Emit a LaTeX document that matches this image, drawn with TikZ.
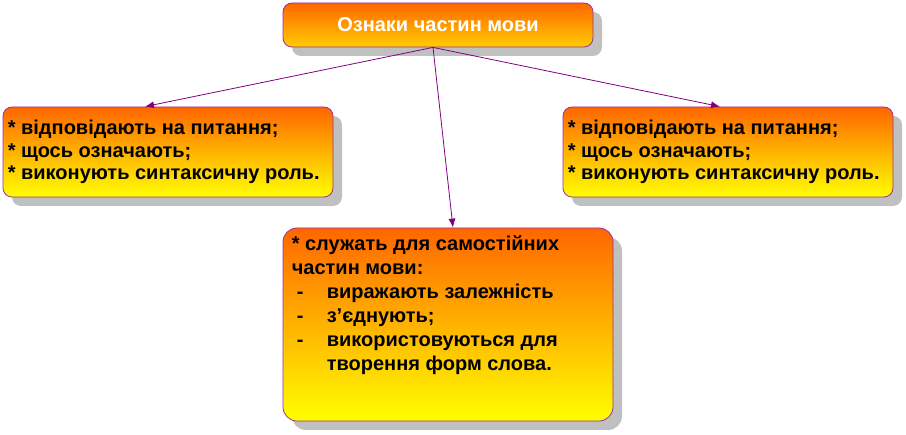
\documentclass[tikz,border=0pt]{standalone}
\usepackage{fontspec}
\setmainfont{Liberation Sans}
\usetikzlibrary{shadows,arrows.meta}
\definecolor{bordc}{HTML}{993399}
\definecolor{arrc}{HTML}{800080}
\definecolor{shc}{HTML}{C0C0C0}
\definecolor{orng}{HTML}{FF6600}
\definecolor{gold}{HTML}{FFCC00}
\definecolor{yel}{HTML}{FFFF00}
\begin{document}
\begin{tikzpicture}[x=1pt,y=-1pt,
  boxbase/.style={draw=bordc, line width=0.8pt, rounded corners=9pt, inner sep=0pt,
    general shadow={fill=shc, shadow xshift=9pt, shadow yshift=-9pt}},
  titlebox/.style={boxbase, top color=orng, bottom color=gold},
  infobox/.style={boxbase, top color=orng, bottom color=yel},
  txt/.style={font=\bfseries\fontsize{20}{22.5}\selectfont, align=left, inner sep=0pt, anchor=north west},
  conn/.style={draw=arrc, line width=0.8pt, -{Latex[length=9pt,width=7pt]}}
]
\useasboundingbox (0,0) rectangle (906,435);
\node[titlebox, minimum width=310pt, minimum height=44pt] (top) at (438,25) {};
\node[font=\bfseries\fontsize{20}{22}\selectfont, text=white, inner sep=0pt] (toptxt) at (top.center) {Ознаки частин мови};
\node[infobox, minimum width=330pt, minimum height=90pt] (left) at (168,152) {};
\node[infobox, minimum width=330pt, minimum height=90pt] (right) at (728,152) {};
\node[infobox, rounded corners=14pt, minimum width=330pt, minimum height=193pt] (bot) at (448,324.5) {};
\node[txt, anchor=west] (lefttxt) at ([xshift=5pt]left.west) {* відповідають на питання;\\* щось означають;\\* виконують синтаксичну роль.};
\node[txt, anchor=west] (righttxt) at ([xshift=5pt]right.west) {* відповідають на питання;\\* щось означають;\\* виконують синтаксичну роль.};
\node[txt, font=\bfseries\fontsize{20}{24}\selectfont] (bottxt) at ([xshift=9pt,yshift=-8pt]bot.north west)
 {* служать для самостійних\\частин мови:\\
  \makebox[35pt][l]{\hspace*{5pt}-}виражають залежність\\
  \makebox[35pt][l]{\hspace*{5pt}-}з’єднують;\\
  \makebox[35pt][l]{\hspace*{5pt}-}використовуються для\\
  \makebox[35pt][l]{}творення форм слова.};
\coordinate (src) at ([xshift=-5pt]top.south);
\draw[conn] (src) -- ([xshift=-23pt]left.north);
\draw[conn] (src) -- ([xshift=5pt]bot.north);
\draw[conn] (src) -- ([xshift=-8pt]right.north);
\end{tikzpicture}
\end{document}
